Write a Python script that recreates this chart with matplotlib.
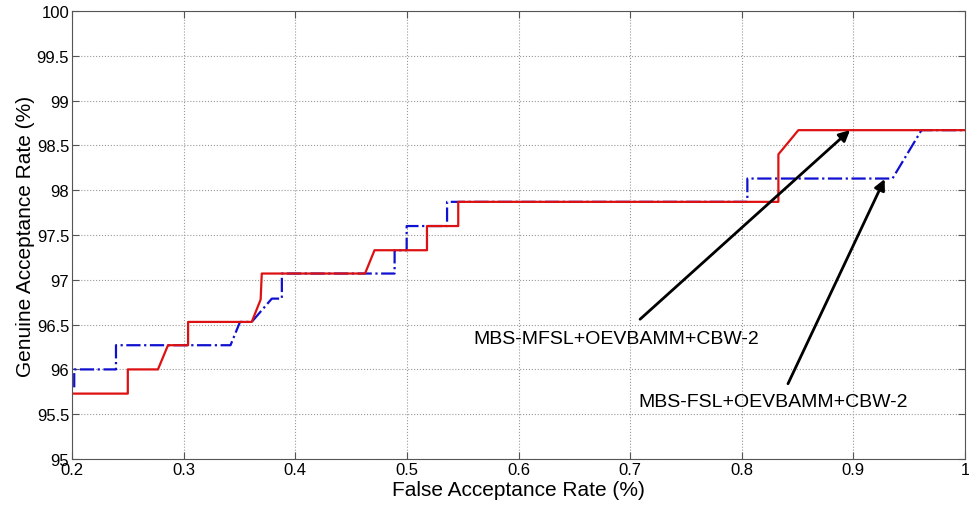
import matplotlib
matplotlib.use("Agg")
import matplotlib.pyplot as plt

plt.rcParams['font.family'] = ['Liberation Sans', 'DejaVu Sans']

# ROC-style curves
mfsl_far = [0.2, 0.25, 0.25, 0.277, 0.286, 0.304, 0.304, 0.361, 0.369, 0.37, 0.4625, 0.471,
            0.518, 0.518, 0.546, 0.546, 0.8328, 0.8328, 0.8507, 1.0]
mfsl_gar = [95.73, 95.73, 96.0, 96.0, 96.27, 96.27, 96.53, 96.53, 96.78, 97.07, 97.07, 97.33,
            97.33, 97.6, 97.6, 97.87, 97.87, 98.4, 98.67, 98.67]

fsl_far = [0.202, 0.202, 0.2394, 0.2394, 0.342, 0.3505, 0.361, 0.379, 0.388, 0.388, 0.489,
           0.489, 0.4998, 0.4998, 0.536, 0.536, 0.805, 0.805, 0.935, 0.948, 0.961, 1.0]
fsl_gar = [95.8, 96.0, 96.0, 96.27, 96.27, 96.53, 96.53, 96.79, 96.79, 97.07, 97.07,
           97.33, 97.33, 97.6, 97.6, 97.87, 97.87, 98.13, 98.13, 98.4, 98.67, 98.67]

x_ticks = [0.2, 0.3, 0.4, 0.5, 0.6, 0.7, 0.8, 0.9, 1.0]
x_labels = ['0.2', '0.3', '0.4', '0.5', '0.6', '0.7', '0.8', '0.9', '1']
y_ticks = [95, 95.5, 96, 96.5, 97, 97.5, 98, 98.5, 99, 99.5, 100]
y_labels = ['95', '95.5', '96', '96.5', '97', '97.5', '98', '98.5', '99', '99.5', '100']

fig = plt.figure(figsize=(9.69, 5.10), dpi=100)
ax = fig.add_axes((0.0743, 0.098, 0.9216, 0.8785))

ax.plot(fsl_far, fsl_gar, color='#1010d0', linestyle='-.', linewidth=1.6)
ax.plot(mfsl_far, mfsl_gar, color='#dd1111', linestyle='-', linewidth=1.6)

ax.set_xlim(0.2, 1.0)
ax.set_ylim(95, 100)
ax.set_xticks(x_ticks)
ax.set_xticklabels(x_labels)
ax.set_yticks(y_ticks)
ax.set_yticklabels(y_labels)
ax.tick_params(direction='in', top=True, right=True, labelsize=12, length=5,
               color='#555555', pad=2)
for s in ax.spines.values():
    s.set_color('#555555')
ax.grid(True, linestyle=':', color='#999999', linewidth=0.8)

ax.set_xlabel('False Acceptance Rate (%)', fontsize=15, labelpad=2)
ax.set_ylabel('Genuine Acceptance Rate (%)', fontsize=15, labelpad=1)

arrow = dict(arrowstyle='-|>', color='black', lw=2, mutation_scale=16, shrinkA=0, shrinkB=0)
ax.annotate('', xy=(0.897, 98.67), xytext=(0.7089, 96.56), arrowprops=arrow)
ax.annotate('', xy=(0.928, 98.125), xytext=(0.8414, 95.84), arrowprops=arrow)
ax.text(0.560, 96.34, 'MBS-MFSL+OEVBAMM+CBW-2', fontsize=14, va='center', ha='left')
ax.text(0.707, 95.64, 'MBS-FSL+OEVBAMM+CBW-2', fontsize=14, va='center', ha='left')

fig.savefig('out.png', dpi=100)
